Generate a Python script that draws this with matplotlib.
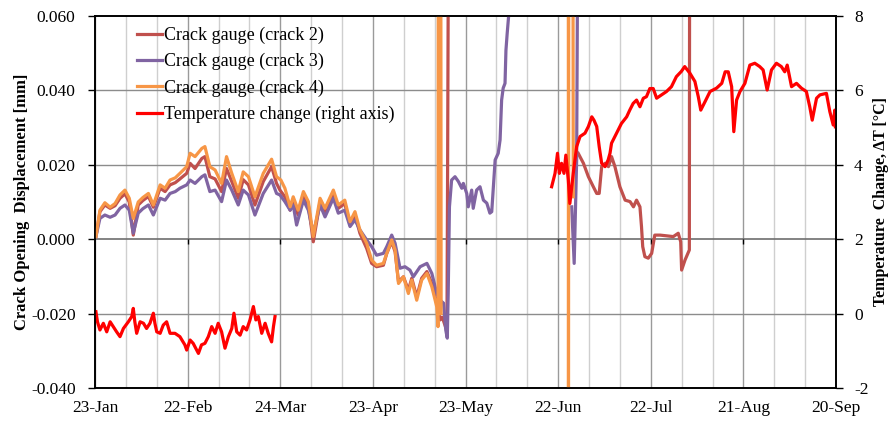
import numpy as np
import matplotlib
matplotlib.use("Agg")
import matplotlib.pyplot as plt

plt.rcParams['font.family'] = ['Liberation Serif', 'DejaVu Serif']
plt.rcParams['axes.unicode_minus'] = False

nan = np.nan

# x tick labels (days since 23-Jan, every 30 days)
tick_days = [0, 30, 60, 90, 120, 150, 180, 210, 240]
tick_labels = ["23-Jan", "22-Feb", "24-Mar", "23-Apr", "23-May", "22-Jun", "22-Jul", "21-Aug", "20-Sep"]

# Crack gauge (crack 4) - orange
days_c4 = [0.3, 1.6, 3.2, 4.9, 6.5, 8.1, 9.7, 11.1, 12.4, 14.0, 15.5, 17.3, 18.9, 21.1, 22.7, 24.3,
           26.0, 27.5, 29.7, 30.8, 32.4, 34.6, 35.6, 37.2, 38.9, 41.0, 42.6, 44.3, 46.4, 48.0, 49.7,
           51.8, 54.5, 57.2, 58.8, 60.2, 61.5, 63.2, 64.2, 65.8, 67.5, 69.1, 70.7, 72.9, 74.5, 77.2,
           78.8, 80.9, 82.6, 84.2, 85.8, 88.0, 89.6, 91.2, 93.4, 94.5, 96.1, 97.2, 98.3, 99.9, 101.5,
           102.6, 104.2, 105.8, 107.5, 109.1, 110.7, 111.1, 111.2, 112.0, 112.1,
           nan, 153.3, 153.35, 153.45, 154.8, 154.9]
crack4 = [0.0007, 0.0078, 0.0098, 0.0086, 0.0096, 0.0119, 0.0132, 0.0110, 0.0056, 0.0100, 0.0112,
          0.0123, 0.0092, 0.0146, 0.0137, 0.0159, 0.0165, 0.0177, 0.0195, 0.0231, 0.0222, 0.0244,
          0.0249, 0.0195, 0.0186, 0.0150, 0.0222, 0.0177, 0.0128, 0.0181, 0.0168, 0.0114, 0.0177,
          0.0215, 0.0168, 0.0159, 0.0137, 0.0087, 0.0114, 0.0078, 0.0128, 0.0101, 0.0007, 0.0110,
          0.0083, 0.0132, 0.0092, 0.0105, 0.0047, 0.0074, 0.0025, -0.0011, -0.0056, -0.0070,
          -0.0065, -0.0038, -0.0002, -0.0029, -0.0119, -0.0101, -0.0146, -0.0110, -0.0164, -0.0110,
          -0.0092, -0.0128, -0.0182, -0.0235, 0.09, 0.09, -0.0200,
          nan, 0.09, -0.05, 0.09, 0.09, 0.0114]

# Crack gauge (crack 2) - dark red
days_c2 = [0.3, 1.6, 3.2, 4.9, 6.5, 8.1, 9.7, 11.1, 12.4, 14.0, 15.5, 17.3, 18.9, 21.1, 22.7, 24.3,
           26.0, 27.5, 29.7, 30.8, 32.4, 34.6, 35.6, 37.2, 38.9, 41.0, 42.6, 44.3, 46.4, 48.0, 49.7,
           51.8, 54.5, 57.2, 58.8, 59.9, 61.5, 63.2, 64.2, 65.8, 67.5, 69.1, 70.7, 72.9, 74.5, 77.2,
           78.8, 80.9, 82.6, 84.2, 85.8, 88.0, 89.6, 91.2, 93.4, 94.5, 96.1, 97.2, 98.3, 99.9, 101.5,
           102.6, 104.2, 105.8, 107.5, 109.1, 110.7, 111.8, 112.5, 113.5, 114.0, 114.2, 114.5,
           nan, 156.5, 158.2, 159.8, 161.4, 162.5, 163.3, 164.1, 165.2, 166.3, 167.3, 168.4, 170.0,
           171.7, 173.3, 174.4, 175.4, 176.5, 177.0, 177.4, 178.1, 179.2, 180.3, 181.3, 183.0,
           185.2, 187.3, 188.9, 189.7, 190.0, 191.1, 192.5, 192.6]
crack2 = [0.0007, 0.0074, 0.0092, 0.0083, 0.0090, 0.0110, 0.0122, 0.0100, 0.0011, 0.0092, 0.0104,
          0.0115, 0.0086, 0.0137, 0.0128, 0.0146, 0.0152, 0.0162, 0.0177, 0.0204, 0.0190, 0.0217,
          0.0222, 0.0168, 0.0162, 0.0128, 0.0190, 0.0155, 0.0110, 0.0160, 0.0146, 0.0092, 0.0155,
          0.0195, 0.0150, 0.0132, 0.0114, 0.0078, 0.0101, 0.0065, 0.0119, 0.0092, -0.0007, 0.0101,
          0.0074, 0.0123, 0.0083, 0.0096, 0.0038, 0.0065, 0.0016, -0.0025, -0.0065, -0.0074,
          -0.0070, -0.0038, -0.0007, -0.0034, -0.0114, -0.0101, -0.0137, -0.0105, -0.0155, -0.0105,
          -0.0087, -0.0119, -0.0172, -0.0217, -0.0210, -0.0235, -0.0220, 0.0180, 0.09,
          nan, 0.0231, 0.0204, 0.0168, 0.0141, 0.0123, 0.0123, 0.0195, 0.0204, 0.0195, 0.0222,
          0.0195, 0.0141, 0.0105, 0.0101, 0.0087, 0.0105, 0.0087, 0.0034, -0.0020, -0.0047,
          -0.0051, -0.0038, 0.0011, 0.0011, 0.0009, 0.0007, 0.0016, -0.0007, -0.0083, -0.0056,
          -0.0029, 0.09]

# Crack gauge (crack 3) - purple
days_c3 = [0.3, 1.6, 3.2, 4.9, 6.5, 8.1, 9.7, 11.1, 12.4, 14.0, 15.5, 17.3, 18.9, 21.1, 22.7, 24.3,
           26.0, 27.5, 29.7, 30.8, 32.4, 34.6, 35.6, 37.2, 38.9, 41.0, 42.6, 44.3, 46.4, 48.0, 49.7,
           51.8, 54.5, 57.2, 58.8, 59.9, 61.5, 63.2, 64.2, 65.3, 67.5, 69.1, 70.7, 72.9, 74.5, 77.2,
           78.8, 80.9, 82.6, 84.2, 85.8, 88.0, 89.6, 91.2, 93.4, 94.5, 96.1, 97.2, 98.8, 100.4,
           102.0, 103.1, 105.3, 107.5, 109.1, 110.7, 111.8, 112.9, 113.6, 114.1, 114.4, 114.8,
           115.5, 116.6, 117.7, 118.8, 119.3, 120.4, 120.9, 122.0, 122.5, 123.6, 124.7, 125.8,
           126.9, 127.9, 128.5, 129.6, 130.6, 131.2, 131.7, 132.2, 132.8, 133.1, 133.5, 134.0, 134.3,
           nan, 154.4, 155.2, 156.0, 156.4]
crack3 = [0.0007, 0.0056, 0.0065, 0.0059, 0.0065, 0.0083, 0.0092, 0.0078, 0.0016, 0.0070, 0.0082,
          0.0092, 0.0065, 0.0110, 0.0105, 0.0123, 0.0128, 0.0137, 0.0146, 0.0159, 0.0150, 0.0168,
          0.0173, 0.0128, 0.0132, 0.0101, 0.0159, 0.0132, 0.0092, 0.0132, 0.0119, 0.0065, 0.0123,
          0.0159, 0.0123, 0.0119, 0.0101, 0.0078, 0.0092, 0.0038, 0.0105, 0.0078, 0.0016, 0.0092,
          0.0060, 0.0110, 0.0070, 0.0078, 0.0034, 0.0052, 0.0025, -0.0002, -0.0020, -0.0043,
          -0.0038, -0.0020, 0.0011, -0.0011, -0.0078, -0.0074, -0.0083, -0.0101, -0.0074, -0.0065,
          -0.0092, -0.0146, -0.0164, -0.0172, -0.0244, -0.0266, -0.0145, 0.0087, 0.0159, 0.0168,
          0.0155, 0.0137, 0.0150, 0.0123, 0.0087, 0.0132, 0.0083, 0.0132, 0.0141, 0.0105, 0.0097,
          0.0070, 0.0074, 0.0213, 0.0231, 0.0267, 0.0374, 0.0406, 0.0419, 0.0508, 0.0553, 0.0603,
          0.09,
          nan, 0.0087, -0.0065, 0.0213, 0.09]

# Temperature change (right axis), deg C
days_t = [0.3, 0.8, 1.6, 2.7, 3.8, 4.9, 5.9, 7.0, 8.1, 9.2, 10.8, 11.9, 12.4, 12.9, 13.5, 14.6,
          15.7, 16.7, 17.8, 18.9, 19.4, 20.0, 21.1, 22.1, 23.2, 24.3, 25.9, 27.5, 29.1, 29.7,
          30.8, 31.8, 33.5, 34.5, 35.6, 36.7, 37.8, 38.9, 39.9, 41.0, 42.1, 43.2, 44.3, 45.0,
          45.9, 47.0, 48.0, 49.1, 50.2, 51.3, 52.1, 52.9, 54.0, 55.1, 56.1, 57.2, 57.8, 58.3,
          nan,
          147.9, 149.0, 149.8, 150.4, 151.1, 151.9, 152.5, 153.3, 153.8, 154.3, 154.9, 156.0,
          157.1, 158.7, 159.8, 160.9, 161.6, 162.5, 163.3, 164.1, 165.2, 166.2, 166.8, 167.3,
          168.4, 169.5, 170.5, 172.2, 173.2, 174.3, 175.4, 176.5, 177.6, 178.6, 179.7, 180.8,
          181.9, 183.5, 185.1, 186.7, 188.3, 189.9, 191.0, 192.7, 194.3, 195.4, 196.2, 197.6,
          199.2, 201.3, 203.0, 204.1, 205.1, 206.2, 206.9, 207.8, 208.9, 210.5, 212.1, 213.7,
          215.3, 216.4, 217.7, 219.1, 220.7, 222.3, 223.4, 224.2, 225.6, 227.2, 228.8, 230.4,
          231.5, 232.3, 233.7, 234.8, 236.9, 238.0, 239.1, 239.6, 239.8]
temp = [0.05, -0.22, -0.44, -0.26, -0.49, -0.22, -0.35, -0.49, -0.62, -0.40, -0.22, -0.08, 0.14,
        -0.22, -0.53, -0.22, -0.26, -0.40, -0.26, 0.01, -0.26, -0.49, -0.53, -0.31, -0.22, -0.53,
        -0.53, -0.62, -0.84, -0.98, -0.71, -0.80, -1.07, -0.84, -0.80, -0.62, -0.35, -0.53, -0.26,
        -0.49, -0.93, -0.62, -0.40, 0.01, -0.49, -0.58, -0.35, -0.44, -0.17, 0.19, -0.17, -0.08,
        -0.53, -0.26, -0.53, -0.76, -0.35, -0.08,
        nan,
        3.41, 3.77, 4.31, 3.77, 4.04, 3.77, 4.26, 3.59, 2.96, 3.32, 3.77, 4.49, 4.76, 4.85, 5.03,
        5.29, 5.20, 5.03, 4.49, 4.04, 3.95, 4.13, 4.31, 4.58, 4.76, 4.94, 5.11, 5.29, 5.47, 5.65,
        5.74, 5.56, 5.79, 5.83, 6.05, 6.05, 5.79, 5.88, 5.97, 6.10, 6.37, 6.51, 6.64, 6.46, 6.24,
        5.83, 5.47, 5.70, 5.97, 6.06, 6.19, 6.50, 6.50, 6.10, 4.89, 5.74, 5.97, 6.19, 6.68, 6.73,
        6.64, 6.55, 6.01, 6.55, 6.73, 6.64, 6.50, 6.68, 6.10, 6.19, 6.06, 5.97, 5.56, 5.20, 5.79,
        5.88, 5.92, 5.43, 5.07, 5.47, 5.02]

c2_col = '#C0504D'
c3_col = '#8064A2'
c4_col = '#F79646'
t_col = '#FF0000'

fig = plt.figure(figsize=(8.88, 4.21), dpi=100)
ax = fig.add_axes([95/888, 33/421, 741/888, 372/421])
ax2 = ax.twinx()

lw = 2.3
# grid
for d in range(0, 241, 10):
    if d % 30 == 0:
        ax.axvline(d, color='#9a9a9a', lw=1.0, zorder=0)
    else:
        ax.axvline(d, color='#cfcfcf', lw=1.0, zorder=0)
for v in [-0.02, 0.02, 0.04]:
    ax.axhline(v, color='#8c8c8c', lw=1.0, zorder=0)
ax.axhline(0.0, color='#6e6e6e', lw=1.2, zorder=0)
ax.vlines(tick_days[1:-1], -0.0012, 0.0, color='black', lw=1.0, zorder=1)

h2, = ax.plot(days_c2, crack2, color=c2_col, lw=lw, label='Crack gauge (crack 2)', zorder=3)
h3, = ax.plot(days_c3, crack3, color=c3_col, lw=lw, label='Crack gauge (crack 3)', zorder=3)
h4, = ax.plot(days_c4, crack4, color=c4_col, lw=lw, label='Crack gauge (crack 4)', zorder=3)
ht, = ax2.plot(days_t, temp, color=t_col, lw=lw, label='Temperature change (right axis)')

ax.set_xlim(0, 240)
ax.set_ylim(-0.04, 0.06)
ax2.set_ylim(-2, 8)

ax.set_xticks(tick_days)
ax.set_xticklabels(tick_labels)
yt = [-0.04, -0.02, 0.0, 0.02, 0.04, 0.06]
ax.set_yticks(yt)
ax.set_yticklabels(['%.3f' % v for v in yt])
ax2.set_yticks([-2, 0, 2, 4, 6, 8])

fs = 12.5
ax.tick_params(axis='x', length=0, pad=9, labelsize=fs)
ax.tick_params(axis='y', length=5, width=1, direction='out', pad=9, labelsize=fs)
ax2.tick_params(axis='y', length=5, width=1, direction='out', pad=8, labelsize=fs)

for a in (ax, ax2):
    for s in a.spines.values():
        s.set_color('black')
        s.set_linewidth(1.2)

ax.set_ylabel('Crack Opening  Displacement [mm]', fontsize=12, fontweight='bold', labelpad=1)
ax2.set_ylabel('Temperature  Change, ΔT [°C]', fontsize=11.5, fontweight='bold', labelpad=3)

leg = ax2.legend(handles=[h2, h3, h4, ht], loc='upper left', bbox_to_anchor=(0.042, 1.0),
                 frameon=False, fontsize=13, handlelength=1.4, handletextpad=0.1,
                 labelspacing=0.5, borderaxespad=0.2)

fig.savefig('out.png', dpi=100)
